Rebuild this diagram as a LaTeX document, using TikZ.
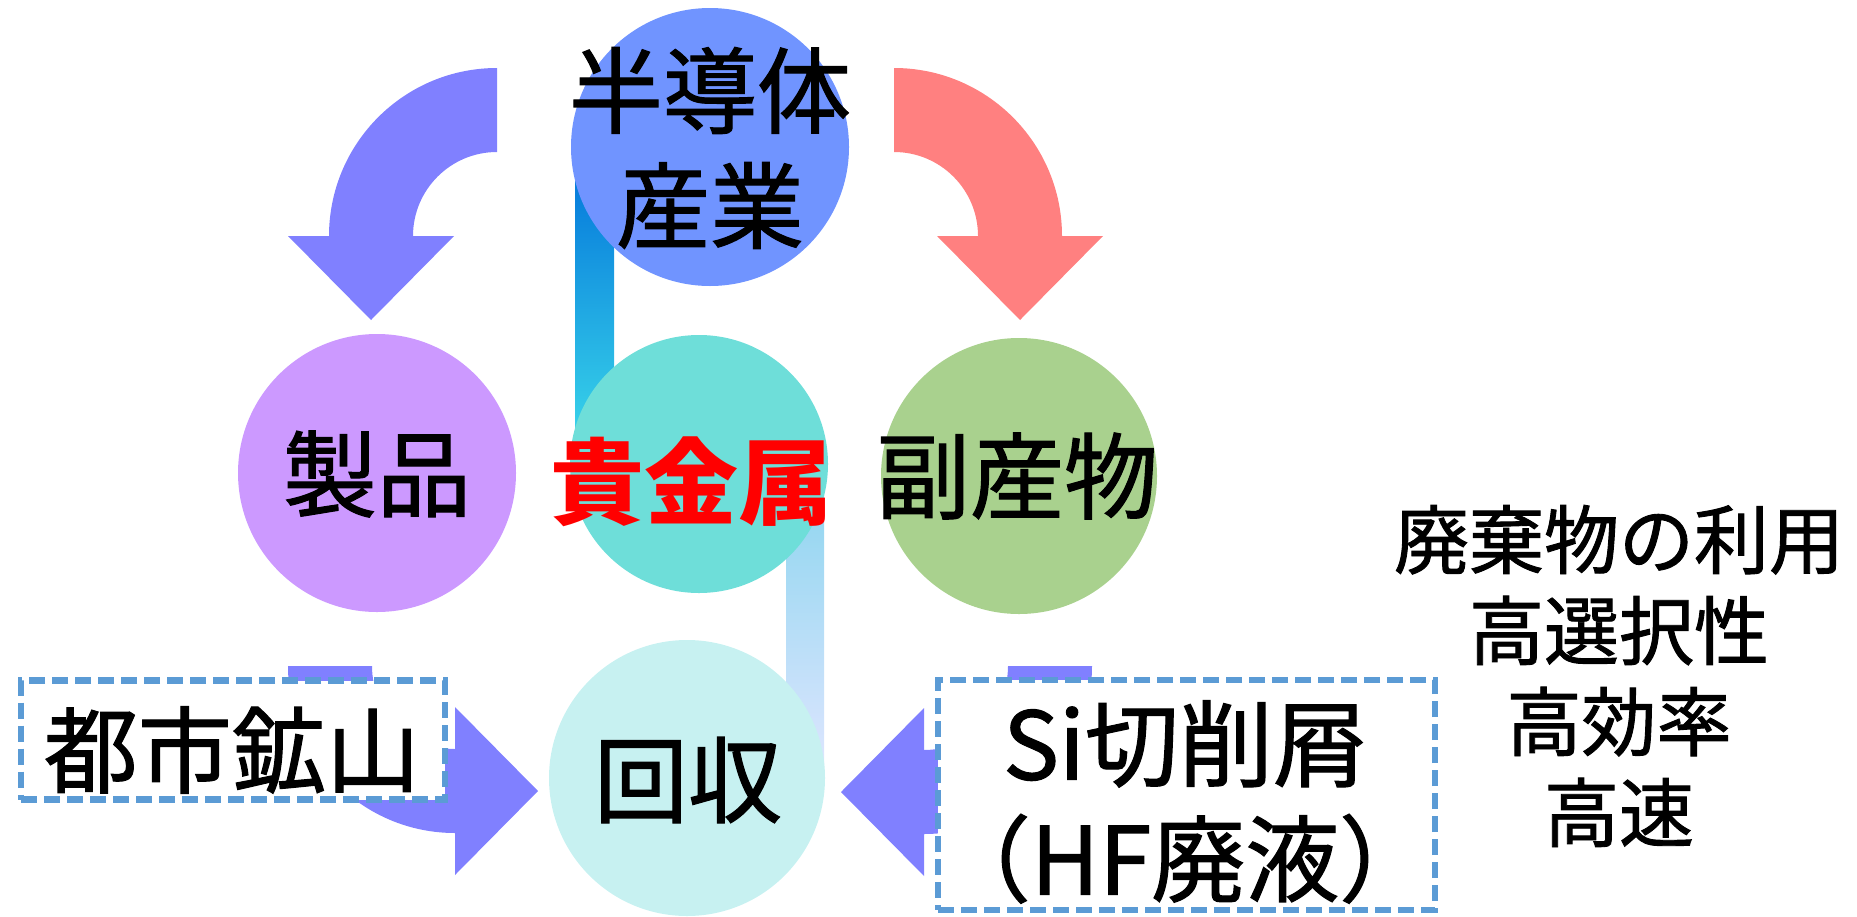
\documentclass[tikz,border=0pt]{standalone}
\usepackage{fontspec}
\setmainfont{Noto Sans CJK JP}[FakeBold=1.2]
\newfontfamily\metalfont{Noto Sans CJK JP}
\definecolor{topblue}{HTML}{7094FF}
\definecolor{prodviolet}{HTML}{CC99FF}
\definecolor{tealc}{HTML}{6EDED9}
\definecolor{byprod}{HTML}{A9D18E}
\definecolor{recov}{HTML}{C7F1F1}
\definecolor{arrblue}{HTML}{8080FF}
\definecolor{arrred}{HTML}{FF8080}
\definecolor{boxblue}{HTML}{5B9BD5}
\definecolor{barAtop}{HTML}{0070DA}
\definecolor{barAbot}{HTML}{3EDDEB}
\definecolor{barBtop}{HTML}{88D4EE}
\definecolor{barBmid}{HTML}{B8C8F8}
\definecolor{barBbot}{HTML}{E0E6FF}
\begin{document}
\begin{tikzpicture}[x=1pt,y=-1pt,
  circ/.style={circle, inner sep=0pt, minimum size=#1},
  lbl/.style={inner sep=0pt, font=\fontsize{94}{115}\selectfont, align=center},
  side/.style={inner sep=0pt, font=\fontsize{75}{91}\selectfont, align=center},
  dbox/.style={draw=boxblue, line width=6.5pt, dash pattern=on 16pt off 7pt, fill=white, inner sep=0pt}]
\useasboundingbox (0,0) rectangle (1857,916);
% gradient bars
\shade[top color=barAtop, bottom color=barAbot] (575,148) rectangle (614,464);
\shade[top color=barBtop, middle color=barBmid, bottom color=barBbot] (786,464) rectangle (824,778);
% circles
\node[circ=278pt, fill=topblue] (semi) at (710,147) {};
\node[circ=278pt, fill=prodviolet] (prod) at (377,473) {};
\node[circ=258pt, fill=tealc] (metal) at (699,464) {};
\node[circ=276pt, fill=byprod] (byp) at (1019,476) {};
\node[circ=276pt, fill=recov] (rec) at (687,778) {};
% curved arrows
\fill[arrblue] (497,68) arc[start angle=90,end angle=180,radius=168pt] -- (288,236) -- (371,320) -- (454,236) -- (413,236) arc[start angle=180,end angle=90,radius=84pt] -- cycle;
\fill[arrred] (894,68) arc[start angle=90,end angle=0,radius=168pt] -- (1103,236) -- (1020,320) -- (937,236) -- (978,236) arc[start angle=0,end angle=90,radius=84pt] -- cycle;
\fill[arrblue] (288,666) arc[start angle=180,end angle=270,radius=167pt] -- (455,875) -- (538,791) -- (455,707) -- (455,749) arc[start angle=270,end angle=180,radius=83pt] -- cycle;
\fill[arrblue] (1092,666) arc[start angle=0,end angle=-90,radius=168pt] -- (924,876) -- (841,792) -- (924,708) -- (924,750) arc[start angle=-90,end angle=0,radius=84pt] -- cycle;
% dashed boxes
\node[dbox, minimum width=424pt, minimum height=119pt] (toshibox) at (233,740) {};
\node[dbox, minimum width=497pt, minimum height=230pt] (sibox) at (1186.5,795) {};
% texts
\node[lbl] (semitxt) at (710,148) {半導体\\産業};
\node[lbl] (prodtxt) at (377,474) {製品};
\node[lbl, text=red, font=\fontsize{94}{115}\selectfont\metalfont\bfseries] (metaltxt) at (691,482) {貴金属};
\node[lbl] (byptxt) at (1017,476) {副産物};
\node[lbl] (toshitxt) at (232,750) {都市鉱山};
\node[lbl] (rectxt) at (688,780) {回収};
\node[lbl] (sitxt) at (1185,802) {Si切削屑\\（HF廃液）};
\node[side] (notes) at (1619,676) {廃棄物の利用\\高選択性\\高効率\\高速};
\end{tikzpicture}
\end{document}
